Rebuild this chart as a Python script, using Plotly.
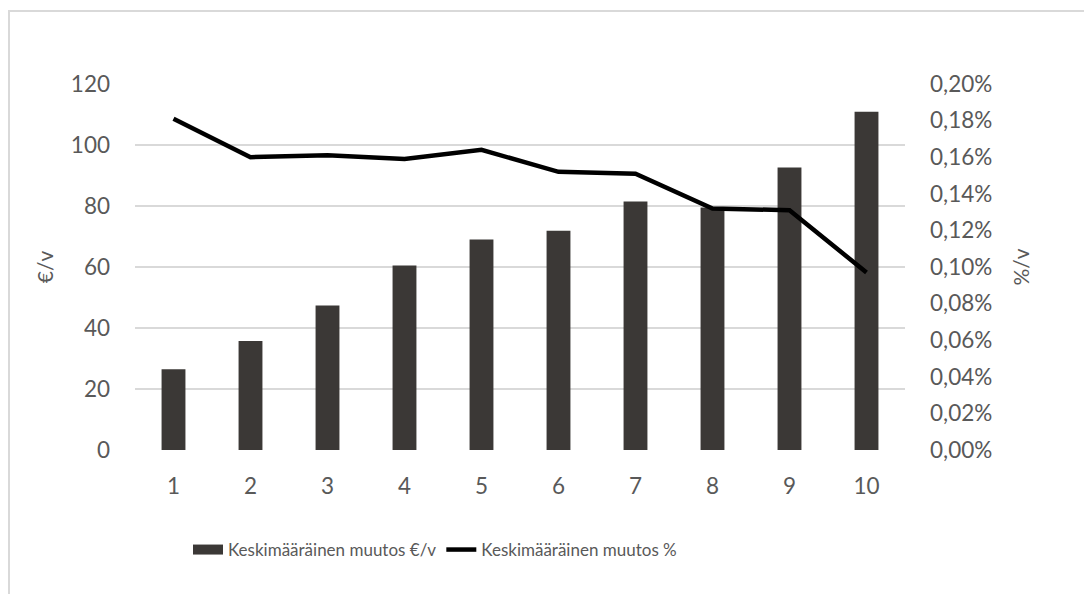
import plotly.graph_objects as go

categories = ["1", "2", "3", "4", "5", "6", "7", "8", "9", "10"]
eur_per_year = [26.5, 35.7, 47.4, 60.5, 69.0, 71.9, 81.5, 79.5, 92.6, 110.9]
pct_per_year = [0.181, 0.160, 0.161, 0.159, 0.164, 0.152, 0.151, 0.132, 0.131, 0.097]  # in %
left_ticks = [0, 20, 40, 60, 80, 100, 120]
right_ticks = [0, 0.02, 0.04, 0.06, 0.08, 0.10, 0.12, 0.14, 0.16, 0.18, 0.20]  # in %

bar_name = "Keskimääräinen muutos €/v"
line_name = "Keskimääräinen muutos %"

TXT = "#595959"
BAR = "#3b3836"
FONT = "Lato, Open Sans, sans-serif"
TICKFONT = dict(family=FONT, size=22.5, color=TXT)

# page body has an 8px margin; plot area is placed at x 135..905, y 84..450 of the page
OFF = 8
fig = go.Figure()
fig.add_trace(go.Bar(x=categories, y=eur_per_year, name=bar_name, legendgroup="bar",
                     showlegend=False,
                     marker=dict(color=BAR, line=dict(width=0)), yaxis="y"))
# legend entry for the bars (wide rectangle like the reference)
fig.add_trace(go.Scatter(x=[None], y=[None], name=bar_name, legendgroup="bar",
                         mode="lines", line=dict(color=BAR, width=14), yaxis="y",
                         hoverinfo="skip"))
fig.add_trace(go.Scatter(x=categories, y=[v / 100 for v in pct_per_year], name=line_name,
                         mode="lines", line=dict(color="#000000", width=4.5), yaxis="y2"))

fig.update_layout(
    width=1092 - OFF, height=594 - OFF,
    margin=dict(l=135 - OFF, r=187, t=84 - OFF, b=144),
    paper_bgcolor="white", plot_bgcolor="white",
    separators=", ",
    bargap=0.69,
    showlegend=True,
    legend=dict(orientation="h", x=(188 - 135) / 770, xanchor="left",
                y=-(550 - 450) / 366, yanchor="middle",
                font=dict(family=FONT, size=17, color=TXT),
                tracegroupgap=0),
    xaxis=dict(type="category", showgrid=False, showline=False, zeroline=False,
               ticks="", tickfont=TICKFONT, ticklabelstandoff=20),
    yaxis=dict(range=[0, 120], tickvals=left_ticks, showgrid=True, gridcolor="#d9d9d9",
               gridwidth=1.5, zeroline=False, showline=False, ticks="",
               tickfont=TICKFONT, ticklabelstandoff=24,
               title=dict(text="€/v", font=dict(family=FONT, size=21, color=TXT),
                          standoff=11)),
    yaxis2=dict(range=[0, 0.002], tickvals=[v / 100 for v in right_ticks], tickformat=".2%",
                overlaying="y", side="right", showgrid=False, zeroline=False, showline=False,
                ticks="", tickfont=TICKFONT, ticklabelstandoff=24,
                title=dict(text="%/v", font=dict(family=FONT, size=21, color=TXT),
                           standoff=23)),
    shapes=[dict(type="rect", xref="paper", yref="paper",
                 x0=(9 - 135) / 770, x1=1.5, y0=-1.0, y1=(450 - 11) / 366,
                 line=dict(color="#d9d9d9", width=2), fillcolor="rgba(0,0,0,0)", layer="below")],
)

fig.write_html("out.html")
